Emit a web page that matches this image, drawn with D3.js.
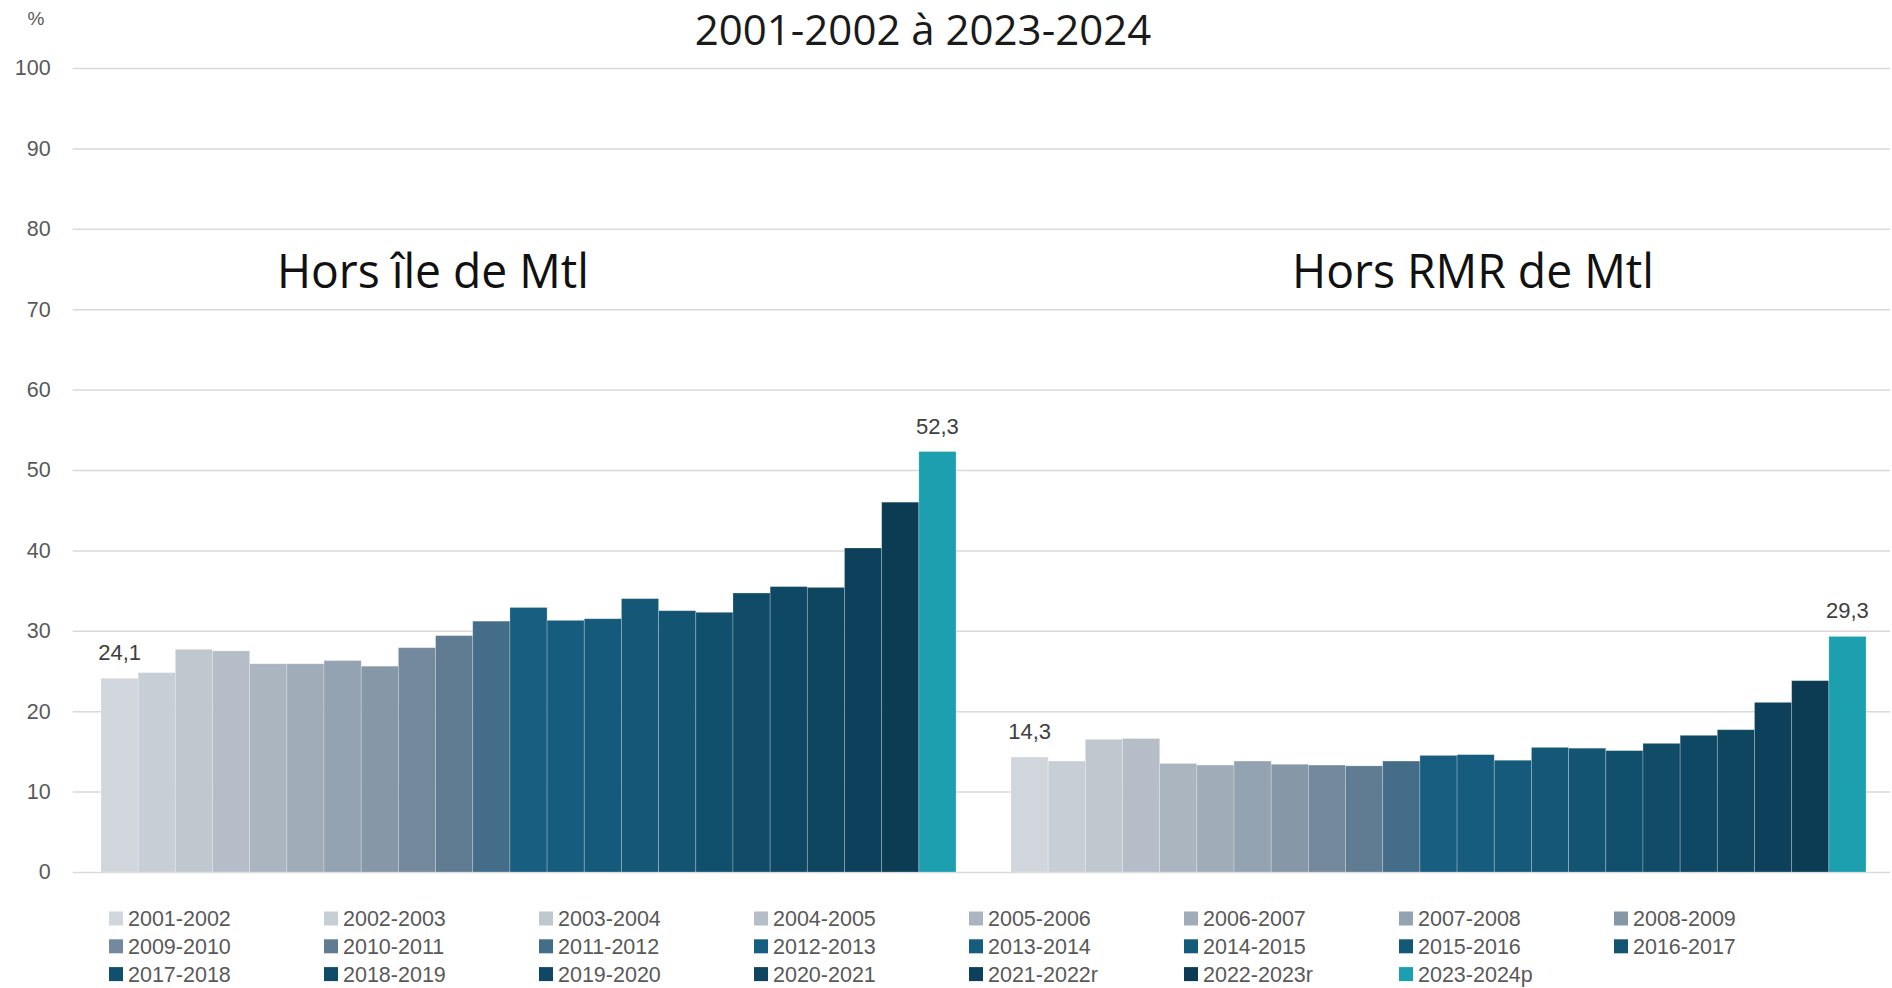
<!DOCTYPE html>
<html>
<head>
<meta charset="utf-8">
<script src="https://cdn.jsdelivr.net/npm/d3@7"></script>
<style>
  body { margin: 0; background: #fff; }
  svg { display: block; }
  .axis-y text { font-family: "Liberation Sans", Arial, sans-serif; font-size: 21.5px; fill: #595959; }
  .axis-y line { stroke: #d9d9d9; stroke-width: 1.5px; }
  .axis-y .domain { display: none; }
</style>
</head>
<body>
<div id="chart"></div>
<script>
const width = 1892;
const height = 988;

// Data
const groups = ["Hors île de Mtl", "Hors RMR de Mtl"];
const years = [
  "2001-2002", "2002-2003", "2003-2004", "2004-2005", "2005-2006", "2006-2007",
  "2007-2008", "2008-2009", "2009-2010", "2010-2011", "2011-2012", "2012-2013",
  "2013-2014", "2014-2015", "2015-2016", "2016-2017", "2017-2018", "2018-2019",
  "2019-2020", "2020-2021", "2021-2022r", "2022-2023r", "2023-2024p"
];
const horsIle = [24.1, 24.8, 27.7, 27.5, 25.9, 25.9, 26.3, 25.6, 27.9, 29.4, 31.2, 32.9,
  31.3, 31.5, 34.0, 32.5, 32.3, 34.7, 35.5, 35.4, 40.3, 46.0, 52.3];
const horsRmr = [14.3, 13.8, 16.5, 16.6, 13.5, 13.3, 13.8, 13.4, 13.3, 13.2, 13.8, 14.5,
  14.6, 13.9, 15.5, 15.4, 15.1, 16.0, 17.0, 17.7, 21.1, 23.8, 29.3];
const yearColors = [
  "#d1d6dd", "#c8ced6", "#bfc7cf", "#b5bec8", "#aab5c0", "#a0acb8",
  "#94a3b1", "#8697a8", "#75899e", "#5f7c93", "#436d89", "#175e80",
  "#165c7e", "#155a7a", "#145777", "#135473", "#11506d", "#104c68",
  "#0f4864", "#0e455f", "#0d405a", "#0b3c53", "#1ca0af"
];
const labelledIdx = [0, 22];
const yTicks = [0, 10, 20, 30, 40, 50, 60, 70, 80, 90, 100];

const margin = { left: 72.7, right: 1890, top: 68, bottom: 872 };

const svg = d3.select("#chart")
  .append("svg")
    .attr("width", width)
    .attr("height", height)
    .attr("viewBox", [0, 0, width, height]);

const yScale = d3.scaleLinear()
  .domain([0, 100])
  .range([margin.bottom, margin.top]);

const xGroup = d3.scaleBand()
  .domain(groups)
  .range([73.5, 1893.5])
  .paddingInner(0.0604)
  .paddingOuter(0.0302);

const xYear = d3.scaleBand()
  .domain(years)
  .range([0, xGroup.bandwidth()]);

const colorScale = d3.scaleOrdinal()
  .domain(years)
  .range(yearColors);

// Gridlines + tick labels
const leftAxis = d3.axisLeft(yScale)
  .tickValues(yTicks)
  .tickSize(-(margin.right - margin.left))
  .tickPadding(22);
svg.append("g")
    .attr("class", "axis axis-y")
    .attr("transform", `translate(${margin.left}, 0)`)
    .call(leftAxis);

svg.append("text")
    .attr("x", 36)
    .attr("y", 25)
    .attr("text-anchor", "middle")
    .style("font-family", "Liberation Sans, Arial, sans-serif")
    .style("font-size", "19px")
    .style("fill", "#595959")
    .text("%");

// Bars
const series = [horsIle, horsRmr];
const table = groups.map((g, gi) => ({
  group: g,
  values: years.map((y, i) => ({ year: y, value: series[gi][i], idx: i }))
}));

const groupSel = svg.selectAll(".grp")
  .data(table)
  .join("g")
    .attr("class", "grp")
    .attr("transform", d => `translate(${xGroup(d.group)}, 0)`);

groupSel.selectAll("rect")
  .data(d => d.values)
  .join("rect")
    .attr("x", d => xYear(d.year))
    .attr("y", d => yScale(d.value))
    .attr("width", xYear.bandwidth())
    .attr("height", d => yScale(0) - yScale(d.value))
    .attr("fill", d => colorScale(d.year))
    .attr("stroke", "#ffffff")
    .attr("stroke-opacity", 0.3)
    .attr("stroke-width", 0.8);

groupSel.selectAll(".lbl")
  .data(d => d.values.filter(v => labelledIdx.includes(v.idx)))
  .join("text")
    .attr("class", "lbl")
    .attr("x", d => xYear(d.year) + xYear.bandwidth() / 2)
    .attr("y", d => yScale(d.value) - 18)
    .attr("text-anchor", "middle")
    .style("font-family", "Liberation Sans, Arial, sans-serif")
    .style("font-size", "22px")
    .style("fill", "#404040")
    .text(d => d.value.toFixed(1).replace(".", ","));

// Titles
svg.append("text")
    .attr("x", 923)
    .attr("y", 45)
    .attr("text-anchor", "middle")
    .style("font-family", "Open Sans, sans-serif")
    .style("font-size", "42px")
    .style("fill", "#1a1a1a")
    .text("2001-2002 à 2023-2024");

const subtitles = [
  { text: groups[0], x: 277, len: 312 },
  { text: groups[1], x: 1292, len: 362 }
];
svg.selectAll(".sub")
  .data(subtitles)
  .join("text")
    .attr("class", "sub")
    .attr("x", d => d.x)
    .attr("y", 288)
    .attr("textLength", d => d.len)
    .attr("lengthAdjust", "spacingAndGlyphs")
    .style("font-family", "Open Sans, sans-serif")
    .style("font-size", "48px")
    .style("fill", "#111")
    .text(d => d.text);

// Legend
const legendCols = 8;
const legend = svg.append("g")
    .attr("class", "legend");
const legendItems = legend.selectAll("g")
  .data(years)
  .join("g")
    .attr("transform", (d, i) => `translate(${109 + (i % legendCols) * 215}, ${918.5 + Math.floor(i / legendCols) * 27.8})`);
legendItems.append("rect")
    .attr("x", 0)
    .attr("y", -7)
    .attr("width", 14)
    .attr("height", 14)
    .attr("fill", d => colorScale(d));
legendItems.append("text")
    .attr("x", 19)
    .attr("y", 0)
    .attr("dy", "0.36em")
    .style("font-family", "Liberation Sans, Arial, sans-serif")
    .style("font-size", "21.5px")
    .style("fill", "#595959")
    .text(d => d);
</script>
</body>
</html>
